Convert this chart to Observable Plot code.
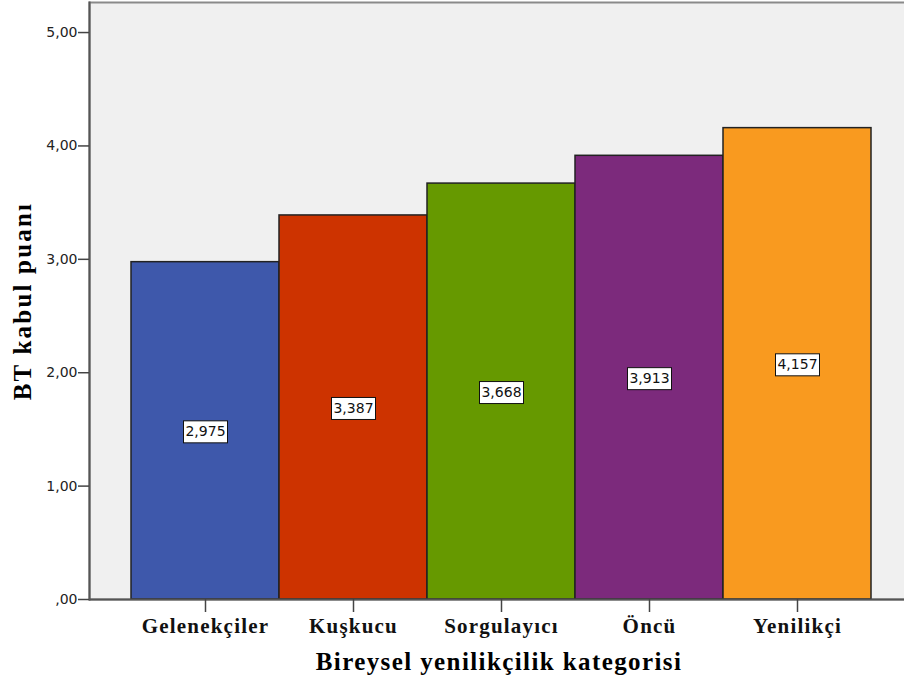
<!DOCTYPE html>
<html>
<head>
<meta charset="utf-8">
<script src="https://cdn.jsdelivr.net/npm/d3@7"></script>
<script src="https://cdn.jsdelivr.net/npm/@observablehq/plot@0.6"></script>
<style>
  html, body { margin: 0; padding: 0; background: #fff; }
  #chart svg { display: block; }
  g[aria-label="x-axis tick label"] text { letter-spacing: 1.2px; }
</style>
</head>
<body>
<div id="chart"></div>
<script>
const categories = ["Gelenekçiler", "Kuşkucu", "Sorgulayıcı", "Öncü", "Yenilikçi"];
const values = [2.975, 3.387, 3.668, 3.913, 4.157];
const valueLabels = ["2,975", "3,387", "3,668", "3,913", "4,157"];
const barColors = ["#3e58ab", "#cd3300", "#669900", "#7c2a7c", "#f99a1f"];
const yTicks = [0, 1, 2, 3, 4, 5];
const yTickLabels = [",00", "1,00", "2,00", "3,00", "4,00", "5,00"];
const xTitle = "Bireysel yenilikçilik kategorisi";
const yTitle = "BT kabul puanı";

const data = categories.map((c, i) => ({cat: c, v: values[i], label: valueLabels[i], color: barColors[i]}));

const serif = "'Liberation Serif', 'Times New Roman', serif";
const sans = "'DejaVu Sans', Verdana, sans-serif";

function boxedText(index, scales, vals, dims, context, next) {
  const g = next(index, scales, vals, dims, context);
  const ns = "http://www.w3.org/2000/svg";
  const bg = document.createElementNS(ns, "g");
  for (const i of index) {
    const r = document.createElementNS(ns, "rect");
    const w = 44, h = 22;
    r.setAttribute("x", vals.x[i] - w / 2);
    r.setAttribute("y", vals.y[i] - h / 2);
    r.setAttribute("width", w);
    r.setAttribute("height", h);
    r.setAttribute("fill", "#fff");
    r.setAttribute("stroke", "#111");
    r.setAttribute("stroke-width", 1);
    bg.appendChild(r);
  }
  g.insertBefore(bg, g.firstChild);
  return g;
}

const spaced = (px) => (index, scales, vals, dims, context, next) => {
  const g = next(index, scales, vals, dims, context);
  g.querySelectorAll("text").forEach(t => t.style.letterSpacing = px + "px");
  return g;
};

const chart = Plot.plot({
  width: 904,
  height: 689,
  marginLeft: 89,
  marginRight: -4,
  marginTop: 2,
  marginBottom: 90,
  style: {background: "#fff", overflow: "visible"},
  x: {type: "band", domain: categories, range: [89, 912], paddingInner: 0, paddingOuter: 0.27, axis: null},
  y: {domain: [0, 5.265], axis: null},
  marks: [
    Plot.frame({fill: "#f0f0f0", stroke: "#8a8a8a", strokeWidth: 2}),
    Plot.barY(data, {x: "cat", y: "v", fill: "color", stroke: "#222", strokeWidth: 1.5}),
    Plot.text(data, {x: "cat", y: d => d.v / 2, text: "label", fontFamily: sans, fontSize: 14, fill: "#111", dy: 1, render: boxedText}),
    Plot.ruleY([0], {stroke: "#555", strokeWidth: 2}),
    Plot.frame({anchor: "left", stroke: "#555", strokeWidth: 2}),
    Plot.axisY({ticks: yTicks, tickFormat: (d, i) => yTickLabels[yTicks.indexOf(d)], tickSize: 11, tickPadding: 1, stroke: "#444", strokeWidth: 1.5, fontFamily: sans, fontSize: 14, fill: "#222", label: null}),
    Plot.axisX({tickSize: 13, tickPadding: 6, stroke: "#444", strokeWidth: 1.5, fontFamily: serif, fontSize: 21, fontWeight: "bold", fill: "#111", label: null}),
    Plot.text([xTitle], {frameAnchor: "bottom", dy: 70, fontFamily: serif, fontSize: 25, fontWeight: "bold", fill: "#000", render: spaced(1.4)}),
    Plot.text([yTitle], {frameAnchor: "left", textAnchor: "middle", rotate: -90, dx: -67, fontFamily: serif, fontSize: 25, fontWeight: "bold", fill: "#000", render: spaced(2.2)})
  ]
});
document.getElementById("chart").appendChild(chart);
</script>
</body>
</html>
